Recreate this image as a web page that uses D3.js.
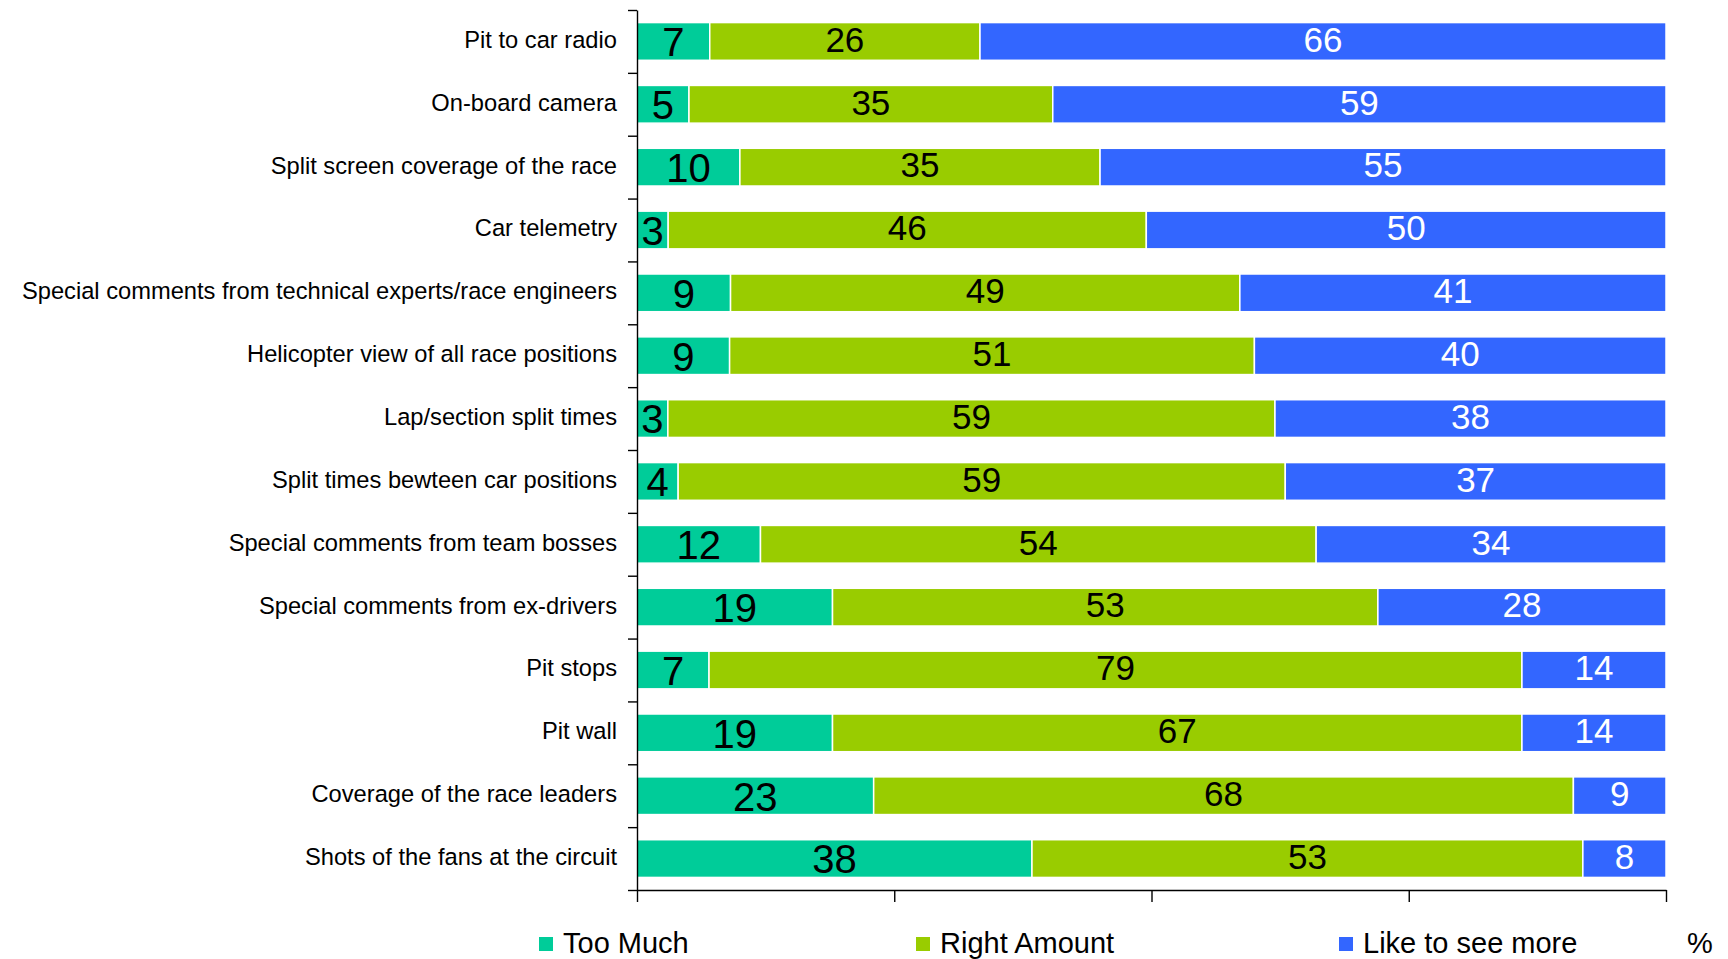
<!DOCTYPE html>
<html>
<head>
<meta charset="utf-8">
<script src="https://cdn.jsdelivr.net/npm/d3@7"></script>
<style>
  html, body { margin: 0; padding: 0; background: #fff; }
  svg { display: block; font-family: "Liberation Sans", Arial, sans-serif; }
</style>
</head>
<body>
<svg id="chart" width="1728" height="959"></svg>
<script>
const categories = [
  "Pit to car radio",
  "On-board camera",
  "Split screen coverage of the race",
  "Car telemetry",
  "Special comments from technical experts/race engineers",
  "Helicopter view of all race positions",
  "Lap/section split times",
  "Split times bewteen car positions",
  "Special comments from team bosses",
  "Special comments from ex-drivers",
  "Pit stops",
  "Pit wall",
  "Coverage of the race leaders",
  "Shots of the fans at the circuit"
];
const tooMuch     = [7, 5, 10, 3, 9, 9, 3, 4, 12, 19, 7, 19, 23, 38];
const rightAmount = [26, 35, 35, 46, 49, 51, 59, 59, 54, 53, 79, 67, 68, 53];
const likeMore    = [66, 59, 55, 50, 41, 40, 38, 37, 34, 28, 14, 14, 9, 8];
const seriesNames = ["Too Much", "Right Amount", "Like to see more"];
const xTicks = [0, 0.25, 0.5, 0.75, 1];
const unitLabel = "%";

(function () {
const colors = ["#00CC99", "#99CC00", "#3366FF"];
const labelColors = ["#000", "#000", "#fff"];
const labelSizes = [40, 35, 35];

const svg = d3.select("#chart");
const pLeft = 637, pRight = 1666, pTop = 10, pBottom = 890;

const rows = categories.map((c, i) => ({
  cat: c, s0: tooMuch[i], s1: rightAmount[i], s2: likeMore[i]
}));
const stack = d3.stack().keys(["s0", "s1", "s2"]).offset(d3.stackOffsetExpand);
const layers = stack(rows);

const x = d3.scaleLinear().domain([0, 1]).range([pLeft, pRight]);
const y = d3.scaleBand().domain(categories).range([pTop, pBottom])
  .paddingInner(0.4).paddingOuter(0.2);

// bars
const g = svg.append("g");
layers.forEach((layer, li) => {
  g.selectAll(null).data(layer).enter().append("rect")
    .attr("x", d => x(d[0]))
    .attr("y", d => y(d.data.cat))
    .attr("width", d => x(d[1]) - x(d[0]))
    .attr("height", y.bandwidth())
    .attr("fill", colors[li])
    .attr("stroke", "#fff")
    .attr("stroke-width", 1.5);
});

// value labels
layers.forEach((layer, li) => {
  const fs = labelSizes[li];
  const off = li === 0 ? 14.8 : 10.3;
  g.selectAll(null).data(layer).enter().append("text")
    .attr("x", d => (x(d[0]) + x(d[1])) / 2)
    .attr("y", d => y(d.data.cat) + y.bandwidth() / 2 + off)
    .attr("text-anchor", "middle")
    .attr("font-size", fs)
    .attr("fill", labelColors[li])
    .text(d => d.data["s" + li]);
});

// y axis line with ticks at band boundaries
const yb = d3.scaleLinear().domain([0, categories.length]).range([pTop, pBottom]);
const yAxis = svg.append("g").attr("transform", `translate(${pLeft},0)`)
  .call(d3.axisLeft(yb).tickValues(d3.range(0, categories.length + 1))
    .tickFormat("").tickSize(9).tickSizeOuter(0));
yAxis.selectAll("path, line").attr("stroke", "#000").attr("stroke-width", 1.4);

// category labels
const yLab = svg.append("g").attr("transform", `translate(${pLeft},0)`)
  .call(d3.axisLeft(y).tickSize(0).tickPadding(20));
yLab.select(".domain").remove();
yLab.selectAll("text")
  .attr("font-size", 23.7)
  .attr("fill", "#000")
  .attr("font-family", "Liberation Sans, Arial, sans-serif")
  .attr("dy", "0.27em");

// x axis
const xAxis = svg.append("g").attr("transform", `translate(0,${pBottom})`)
  .call(d3.axisBottom(x).tickValues(xTicks).tickFormat("").tickSize(12).tickSizeOuter(0));
xAxis.selectAll("path, line").attr("stroke", "#000").attr("stroke-width", 1.4);

// legend
const legX = [539, 916, 1339];
const leg = svg.append("g");
seriesNames.forEach((name, i) => {
  leg.append("rect").attr("x", legX[i]).attr("y", 937).attr("width", 14).attr("height", 14)
    .attr("fill", colors[i]);
  leg.append("text").attr("x", legX[i] + 24).attr("y", 953)
    .attr("font-size", 29).attr("fill", "#000").text(name);
});
leg.append("text").attr("x", 1687).attr("y", 953).attr("font-size", 29)
  .attr("fill", "#000").text(unitLabel);
})();
</script>
</body>
</html>
